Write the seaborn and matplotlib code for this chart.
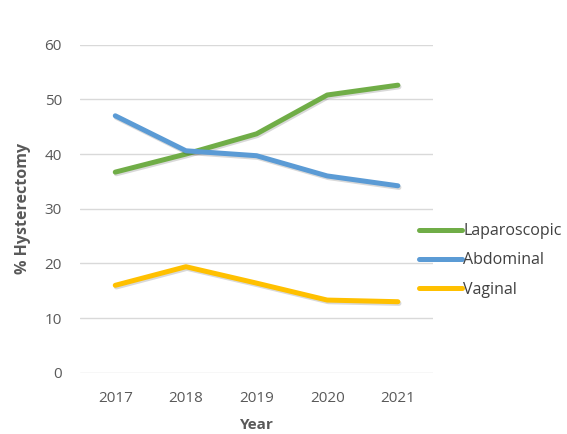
import matplotlib
matplotlib.use("Agg")
import matplotlib.pyplot as plt
import matplotlib.patheffects as pe
import pandas as pd
import seaborn as sns

# Share of hysterectomies by surgical route, 2017-2021
years = [2017, 2018, 2019, 2020, 2021]
laparoscopic = [36.7, 40.0, 43.7, 50.8, 52.6]
abdominal = [47.0, 40.6, 39.7, 36.0, 34.2]
vaginal = [16.0, 19.4, 16.4, 13.3, 13.0]
routes = ["Laparoscopic", "Abdominal", "Vaginal"]
colors = ["#70AD47", "#5B9BD5", "#FFC000"]
y_ticks = [0, 10, 20, 30, 40, 50, 60]

df = pd.DataFrame({
    "Year": years * 3,
    "Percent": laparoscopic + abdominal + vaginal,
    "Route": [r for r in routes for _ in years],
})

sns.set_theme(style="white")
plt.rcParams["font.family"] = ["Open Sans", "DejaVu Sans"]

fig = plt.figure(figsize=(5.67, 4.34), dpi=100)
ax = fig.add_axes([0.141, 0.141, 0.623, 0.756])

sns.lineplot(data=df, x="Year", y="Percent", hue="Route", hue_order=routes,
             palette=colors, linewidth=3.6, ax=ax, legend=False,
             solid_capstyle="round", solid_joinstyle="round")

shadow = [pe.SimpleLineShadow(offset=(0.8, -1.2), shadow_color="black", alpha=0.15),
          pe.Normal()]
for line in ax.get_lines():
    line.set_path_effects(shadow)

ax.set_xlim(2016.5, 2021.5)
ax.set_ylim(0, 60)
ax.set_xticks(years)
ax.set_xticklabels([str(y) for y in years])
ax.set_yticks(y_ticks)
ax.yaxis.grid(True, color="#D9D9D9", linewidth=1.0)
ax.set_axisbelow(True)
for s in ax.spines.values():
    s.set_visible(False)
ax.tick_params(axis="both", length=0, labelsize=11, labelcolor="#595959")
ax.tick_params(axis="x", pad=13)
ax.tick_params(axis="y", pad=13)

ax.set_xlabel("Year", fontsize=11, fontweight="bold", color="#595959", labelpad=9)
ax.set_ylabel("% Hysterectomy", fontsize=11.5, fontweight="bold", color="#595959", labelpad=10)

handles = [plt.Line2D([], [], color=c, linewidth=3.6, solid_capstyle="round") for c in colors]
leg = fig.legend(handles, routes, loc="upper left", bbox_to_anchor=(0.727, 0.5),
                 frameon=False, fontsize=11.5, handlelength=2.7, handletextpad=0.1,
                 labelspacing=0.82, borderaxespad=0)
for t in leg.get_texts():
    t.set_color("#404040")

fig.savefig("out.png", dpi=100)
